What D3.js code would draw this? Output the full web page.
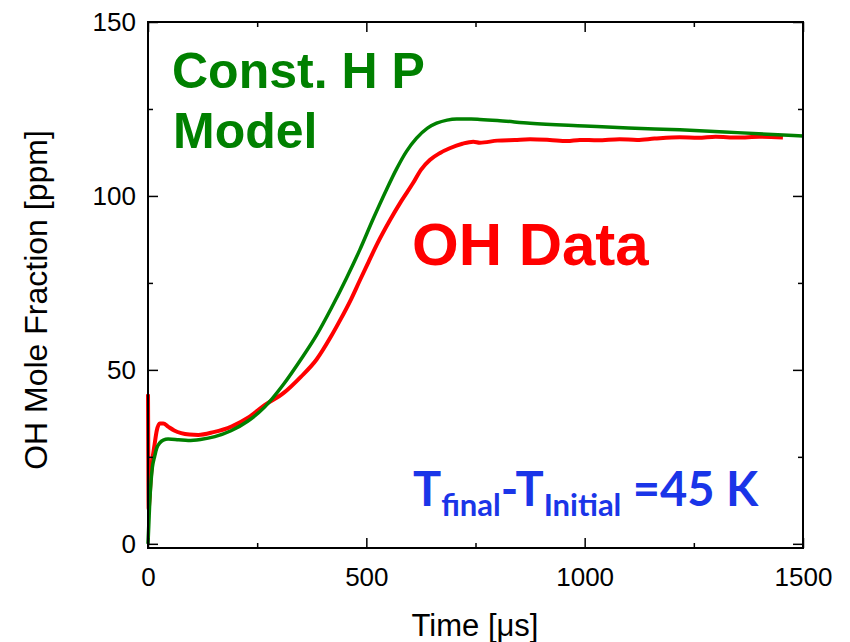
<!DOCTYPE html>
<html>
<head>
<meta charset="utf-8">
<script src="https://cdn.jsdelivr.net/npm/d3@7"></script>
<style>
  body { margin: 0; background: #fff; }
  svg { display: block; }
</style>
</head>
<body>
<div id="chart"></div>
<script>
// --- Données ---
// Temps (µs) et fraction molaire OH (ppm) : modèle H P constant
const modelTime = [0, 2, 4, 7, 10, 15, 20, 27, 35, 46, 70, 92, 120, 153, 190, 229, 267, 310, 350, 386, 420, 455, 485, 516, 545, 569, 592, 615, 640, 661, 685, 707, 740, 760, 800, 875, 1000, 1100, 1218, 1350, 1500];
const modelOH = [0, 6, 12, 18, 22, 25, 27.5, 29, 29.8, 30.1, 29.9, 29.7, 30, 30.8, 32.5, 35.3, 39.3, 45.8, 53, 60, 67.8, 76.5, 84.5, 93.5, 101.5, 107.7, 112.8, 116.6, 119.5, 120.9, 121.8, 122.1, 122.1, 122, 121.7, 120.9, 120.1, 119.5, 119, 118.2, 117.2];

// Mesures OH (ppm)
const dataTime = [0, 0.5, 1.5, 3, 6, 10, 15, 20, 27, 35, 46, 60, 76, 95, 115, 150, 191, 230, 267, 310, 350, 386, 420, 440, 465, 485, 505, 524, 554, 580, 607, 625, 646, 668, 691, 720, 745, 760, 800, 840, 875, 920, 960, 989, 1030, 1080, 1120, 1160, 1218, 1260, 1300, 1350, 1400, 1454];
const dataOH = [43, 30, 10, 12, 18, 24, 28.5, 32.5, 34.6, 34.6, 33.7, 32.6, 31.8, 31.4, 31.3, 32.1, 33.7, 36.3, 39.9, 43.3, 48, 53, 59.8, 64.3, 70.3, 75.7, 81, 86, 93, 98.5, 103.7, 107.5, 110.4, 112.3, 113.7, 115, 115.6, 115.3, 115.9, 116.1, 116.3, 116.1, 115.8, 116.1, 116, 116.3, 116.1, 116.5, 116.9, 116.7, 117, 116.8, 117, 116.8];

const xMajor = [0, 500, 1000, 1500];
const xMinor = [250, 750, 1250];
const yMajor = [0, 50, 100, 150];
const yMinor = [25, 75, 125];

const width = 850;
const height = 642;
const plotLeft = 148, plotRight = 803, plotTop = 22, plotBottom = 548;

const svg = d3.select("#chart").append("svg")
    .attr("width", width)
    .attr("height", height);

// Échelles
const x = d3.scaleLinear().domain([0, 1500]).range([plotLeft, plotRight]);
const y = d3.scaleLinear().domain([-1.2, 150]).range([plotBottom, plotTop]);

const font = "'Liberation Sans', Arial, sans-serif";

// --- Courbes ---
svg.append("path")
    .datum(dataTime.map((t, i) => [t, dataOH[i]]))
    .attr("d", d3.line().x(d => x(d[0])).y(d => y(d[1])).curve(d3.curveMonotoneX))
    .attr("fill", "none")
    .attr("stroke", "#ff0000")
    .attr("stroke-width", 4)
    .attr("stroke-linejoin", "round");

svg.append("path")
    .datum(modelTime.map((t, i) => [t, modelOH[i]]))
    .attr("d", d3.line().x(d => x(d[0])).y(d => y(d[1])).curve(d3.curveMonotoneX))
    .attr("fill", "none")
    .attr("stroke", "#008000")
    .attr("stroke-width", 3.5);

// --- Axes (ticks vers l'intérieur, miroir en haut et à droite) ---
const axisG = svg.append("g");

const xBottom = d3.axisBottom(x).tickValues(xMajor).tickSizeInner(-10).tickSizeOuter(0).tickPadding(20).tickFormat(d3.format("d"));
const xBottomMinor = d3.axisBottom(x).tickValues(xMinor).tickSizeInner(-5).tickSizeOuter(0).tickFormat("");
const xTop = d3.axisTop(x).tickValues(xMajor).tickSizeInner(-10).tickSizeOuter(0).tickFormat("");
const xTopMinor = d3.axisTop(x).tickValues(xMinor).tickSizeInner(-5).tickSizeOuter(0).tickFormat("");

const yLeft = d3.axisLeft(y).tickValues(yMajor).tickSizeInner(-10).tickSizeOuter(0).tickPadding(12).tickFormat(d3.format("d"));
const yLeftMinor = d3.axisLeft(y).tickValues(yMinor).tickSizeInner(-5).tickSizeOuter(0).tickFormat("");
const yRight = d3.axisRight(y).tickValues(yMajor).tickSizeInner(-10).tickSizeOuter(0).tickFormat("");
const yRightMinor = d3.axisRight(y).tickValues(yMinor).tickSizeInner(-5).tickSizeOuter(0).tickFormat("");

axisG.append("g").attr("transform", `translate(0,${plotBottom})`).call(xBottom);
axisG.append("g").attr("transform", `translate(0,${plotBottom})`).call(xBottomMinor);
axisG.append("g").attr("transform", `translate(0,${plotTop})`).call(xTop);
axisG.append("g").attr("transform", `translate(0,${plotTop})`).call(xTopMinor);
axisG.append("g").attr("transform", `translate(${plotLeft},0)`).call(yLeft);
axisG.append("g").attr("transform", `translate(${plotLeft},0)`).call(yLeftMinor);
axisG.append("g").attr("transform", `translate(${plotRight},0)`).call(yRight);
axisG.append("g").attr("transform", `translate(${plotRight},0)`).call(yRightMinor);

axisG.selectAll(".domain").remove();
axisG.selectAll(".tick line").attr("stroke", "#000").attr("stroke-width", 1.5);
axisG.selectAll(".tick text")
    .style("font-family", font)
    .style("font-size", "26px")
    .attr("fill", "#000");

// Cadre
svg.append("rect")
    .attr("x", plotLeft).attr("y", plotTop)
    .attr("width", plotRight - plotLeft).attr("height", plotBottom - plotTop)
    .attr("fill", "none")
    .attr("stroke", "#000")
    .attr("stroke-width", 2);

// --- Titres des axes ---
svg.append("text")
    .attr("x", 475).attr("y", 636)
    .attr("text-anchor", "middle")
    .style("font-family", font).style("font-size", "31px")
    .text("Time [\u03bcs]");

svg.append("text")
    .attr("transform", "translate(47,300) rotate(-90)")
    .attr("text-anchor", "middle")
    .style("font-family", font).style("font-size", "32px")
    .text("OH Mole Fraction [ppm]");

// --- Annotations ---
svg.append("text")
    .attr("x", 172).attr("y", 88)
    .attr("fill", "#008000")
    .style("font-family", font).style("font-size", "50px").style("font-weight", "bold")
    .text("Const. H P");

svg.append("text")
    .attr("x", 173).attr("y", 148)
    .attr("fill", "#008000")
    .style("font-family", font).style("font-size", "50px").style("font-weight", "bold")
    .text("Model");

svg.append("text")
    .attr("x", 412).attr("y", 265)
    .attr("fill", "#ff0000")
    .style("font-family", font).style("font-size", "60px").style("font-weight", "bold")
    .text("OH Data");

const tText = svg.append("text")
    .attr("x", 413).attr("y", 506)
    .attr("fill", "#1a35e8")
    .style("font-family", "Lato, 'Open Sans', sans-serif").style("font-weight", "bold");
tText.append("tspan").style("font-size", "47px").text("T");
tText.append("tspan").style("font-size", "31px").attr("dy", 10).text("final");
tText.append("tspan").style("font-size", "47px").attr("dy", -10).text("-T");
tText.append("tspan").style("font-size", "31px").attr("dy", 10).text("Initial");
tText.append("tspan").style("font-size", "47px").attr("dy", -10).text(" =45 K");
</script>
</body>
</html>
